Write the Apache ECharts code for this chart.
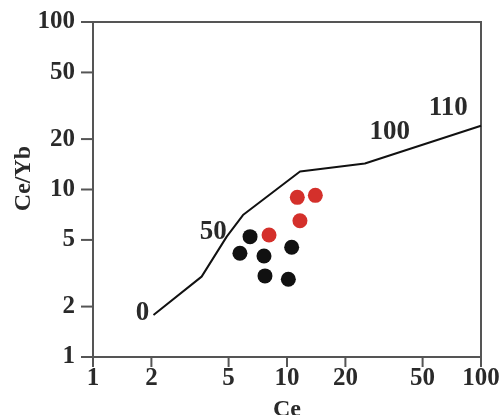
<!DOCTYPE html>
<html>
<head>
<meta charset="utf-8">
<script src="https://cdn.jsdelivr.net/npm/echarts@6/dist/echarts.min.js"></script>
<style>html,body{margin:0;padding:0;background:#fff;}#c{width:499px;height:415px;}</style>
</head>
<body>
<div id="c"></div>
<script>
const xTicks = [1, 2, 5, 10, 20, 50, 100];
const yTicks = [1, 2, 5, 10, 20, 50, 100];
const blackCe = [6.45, 5.72, 7.61, 10.57, 7.70, 10.16];
const blackCeYb = [5.23, 4.16, 4.01, 4.52, 3.05, 2.91];
const redCe = [8.08, 11.3, 14.0, 11.66];
const redCeYb = [5.35, 8.98, 9.23, 6.51];
const curveCe = [2.05, 3.63, 4.89, 5.93, 11.67, 25.2, 100];
const curveCeYb = [1.78, 3.02, 5.23, 7.04, 12.8, 14.3, 24.0];
const curveLabels = ['0', '50', '100', '110'];
const curveLabelCe = [1.80, 4.17, 33.9, 67.8];
const curveLabelCeYb = [1.83, 5.6, 22.1, 30.5];

const zip = (a, b) => a.map((v, i) => [v, b[i]]);
const font = 'Liberation Serif';
const txt = { fontFamily: font, fontWeight: 'bold', color: '#2a2a2a' };
const axisCol = '#555';
const chart = echarts.init(document.getElementById('c'));
chart.setOption({
  animation: false,
  grid: { left: 93, right: 18, top: 22, bottom: 58, containLabel: false, outerBoundsMode: 'none',
    show: true, borderColor: axisCol, borderWidth: 2 },
  xAxis: {
    type: 'log', logBase: 10, min: 1, max: 100,
    name: 'Ce', nameLocation: 'middle', nameGap: 41, nameMoveOverlap: false,
    nameTextStyle: Object.assign({ fontSize: 24 }, txt),
    axisLine: { onZero: false, lineStyle: { color: axisCol, width: 2 } },
    axisTick: { show: false },
    axisLabel: Object.assign({
      customValues: xTicks, margin: 0, fontSize: 25,
      formatter: v => '{t|}\n{v|' + v + '}',
      rich: {
        t: { width: 2, height: 10, backgroundColor: axisCol },
        v: Object.assign({ fontSize: 25, lineHeight: 24 }, txt)
      }
    }, txt),
    splitLine: { show: false }, minorTick: { show: false }
  },
  yAxis: {
    type: 'log', logBase: 10, min: 1, max: 100,
    name: 'Ce/Yb', nameLocation: 'middle', nameGap: 57, nameRotate: 90, nameMoveOverlap: false,
    nameTextStyle: Object.assign({ fontSize: 24, padding: [0, 0, 0, 22] }, txt),
    axisLine: { onZero: false, lineStyle: { color: axisCol, width: 2 } },
    axisTick: { show: false },
    axisLabel: Object.assign({
      customValues: yTicks, margin: 1, fontSize: 25,
      formatter: v => '{v|' + v + '}{g|}{t|}',
      rich: {
        v: Object.assign({ fontSize: 25 }, txt),
        g: { width: 6, height: 2 },
        t: { width: 11, height: 2, backgroundColor: axisCol }
      }
    }, txt),
    splitLine: { show: false }, minorTick: { show: false }
  },
  series: [
    {
      type: 'line', data: zip(curveCe, curveCeYb), symbol: 'none',
      lineStyle: { color: '#111', width: 2 }, z: 2
    },
    {
      type: 'scatter', data: zip(blackCe, blackCeYb), symbolSize: 15,
      itemStyle: { color: '#111', opacity: 1 }, z: 3
    },
    {
      type: 'scatter', data: zip(redCe, redCeYb), symbolSize: 15,
      itemStyle: { color: '#d4302b', opacity: 1 }, z: 3
    },
    {
      type: 'scatter', symbolSize: 0, silent: true,
      itemStyle: { opacity: 1 },
      data: curveLabels.map((n, i) => ({ name: n, value: [curveLabelCe[i], curveLabelCeYb[i]] })),
      label: Object.assign({ show: true, position: 'inside', formatter: p => p.name, fontSize: 27 }, txt)
    }
  ]
});
</script>
</body>
</html>
